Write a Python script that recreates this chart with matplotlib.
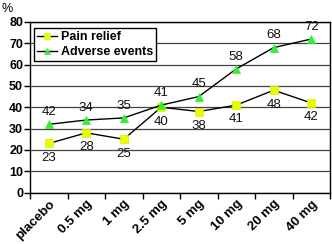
import matplotlib
matplotlib.use("Agg")
import matplotlib.pyplot as plt

plt.rcParams['font.family'] = ['Liberation Sans', 'DejaVu Sans']

categories = ['placebo', '0.5 mg', '1 mg', '2.5 mg', '5 mg', '10 mg', '20 mg', '40 mg']
pain_relief = [23, 28, 25, 40, 38, 41, 48, 42]
adverse_events = [32, 34, 35, 41, 45, 58, 68, 72]
pain_labels = ['23', '28', '25', '40', '38', '41', '48', '42']
adverse_labels = ['42', '34', '35', '41', '45', '58', '68', '72']
yticks = [0, 10, 20, 30, 40, 50, 60, 70, 80]

fig = plt.figure(figsize=(3.32, 2.44), dpi=100)
ax = fig.add_axes([30/332, 1-192.5/244, 300/332, 170.5/244])

x = list(range(len(categories)))
ax.plot(x, pain_relief, color='black', lw=1.0, marker='s', markersize=5.5,
        markerfacecolor='#e8ff00', markeredgecolor='#d8f000', markeredgewidth=0.5,
        label='Pain relief', zorder=3)
ax.plot(x, adverse_events, color='black', lw=1.0, marker='^', markersize=6,
        markerfacecolor='#33ee33', markeredgecolor='#33ee33', markeredgewidth=0.5,
        label='Adverse events', zorder=3)

for xi, v, t in zip(x, pain_relief, pain_labels):
    ax.annotate(t, (xi, v), xytext=(0, -6), textcoords='offset points',
                ha='center', va='top', fontsize=9.5, color='#111111')
for xi, v, t in zip(x, adverse_events, adverse_labels):
    ax.annotate(t, (xi, v), xytext=(0, 4.5), textcoords='offset points',
                ha='center', va='bottom', fontsize=9.5, color='#111111')

ax.set_xlim(-0.5, len(categories) - 0.5)
ax.set_ylim(0, 80)
ax.set_yticks(yticks)
ax.set_yticklabels([str(v) for v in yticks], fontweight='bold', fontsize=9)
ax.set_xticks([i - 0.5 for i in range(len(categories) + 1)])
ax.set_xticklabels([])
ax.set_xticks(x, minor=True)
ax.set_xticklabels(categories, minor=True, rotation=45, ha='right', va='top',
                   rotation_mode='anchor', fontweight='bold', fontsize=9.5)
ax.tick_params(axis='x', which='major', direction='out', length=4, width=1, color='black')
ax.tick_params(axis='x', which='minor', length=0, pad=4)
ax.tick_params(axis='y', direction='out', length=4, width=1, pad=1)

ax.grid(axis='y', color='#444444', lw=0.9)
ax.set_axisbelow(True)
for s in ax.spines.values():
    s.set_color('black')
    s.set_linewidth(1.0)

leg = ax.legend(loc='upper left', bbox_to_anchor=(0.0, 0.985),
                prop={'weight': 'bold', 'size': 9}, frameon=True, fancybox=False,
                edgecolor='black', handlelength=1.6, handletextpad=0.3,
                borderpad=0.25, labelspacing=0.2, borderaxespad=0.3,
                markerscale=0.75, framealpha=1)
leg.get_frame().set_linewidth(1.0)

fig.text(2/332, 1-15/244, '%', fontsize=9, ha='left', va='bottom')

fig.savefig('out.png', dpi=100)
